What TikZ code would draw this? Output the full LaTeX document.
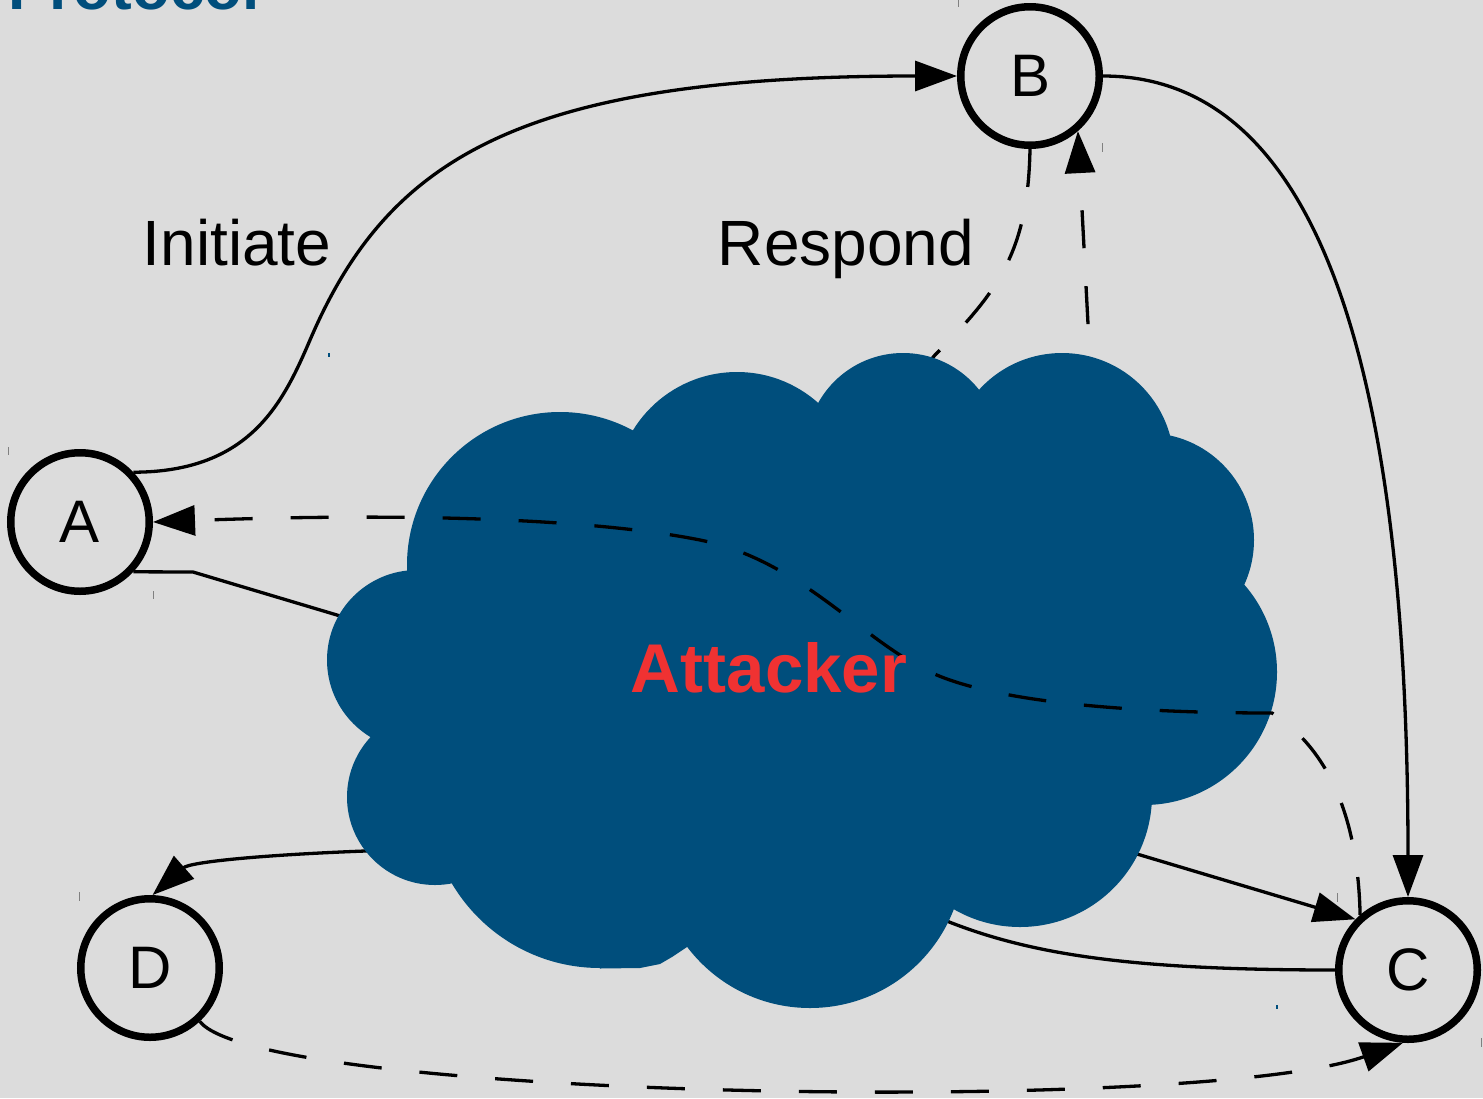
\documentclass[tikz,border=0pt]{standalone}
\usepackage{fontspec}
\setmainfont{Liberation Sans}
\usetikzlibrary{arrows.meta}
\definecolor{bg}{RGB}{220,220,220}
\definecolor{cloudblue}{RGB}{0,78,124}
\definecolor{attred}{RGB}{240,50,50}
\tikzset{
  party/.style={circle, draw=black, line width=7.5pt, minimum size=138.5pt, inner sep=0pt, fill=bg, font=\fontsize{60}{72}\selectfont},
  conn/.style={line width=3.3pt, draw=black},
  dashconn/.style={conn, dash pattern=on 38pt off 38pt},
  arr/.style={-{Triangle[length=42pt,width=30pt]}},
  lbl/.style={font=\fontsize{64}{76}\selectfont, inner sep=0pt, anchor=base},
  tickg/.style={line width=1pt, draw=gray},
  tickb/.style={line width=1.5pt, draw=cloudblue}
}
\begin{document}
\begin{tikzpicture}[x=1pt,y=-1pt]
\useasboundingbox (0,0) rectangle (1483,1098);
\clip (0,0) rectangle (1483,1098);
\fill[bg] (0,0) rectangle (1483,1098);

% title (cut off at the top edge, as in the reference)
\node[anchor=base west, inner sep=0pt, text=cloudblue, font=\bfseries\fontsize{62}{74}\selectfont] (title) at (8,9) {Protocol};

% parties
\node[party] (A) at (80,522) {A};
\node[party] (B) at (1030,76) {B};
\node[party] (C) at (1408,970) {C};
\node[party] (D) at (150,968) {D};

% labels
\node[lbl] (init) at (237,265) {Initiate};
\node[lbl] (resp) at (846,265) {Respond};

% helper coordinates (inside / on the cloud)
\coordinate (ac1) at (193,572);
\coordinate (clB1) at (935,355);
\coordinate (clB2) at (880,420);
\coordinate (clB3) at (1092,400);
\coordinate (cd1) at (900,900);
\coordinate (cd2) at (365,851);
\coordinate (ca1) at (1272,713);
\coordinate (ca2) at (930,672);
\coordinate (ca3) at (700,540);
\coordinate (ab1) at (310,340);

% visible connectors not crossing the cloud
\draw[conn, arr] (A.43) .. controls (250,472) and (283,403) .. (ab1)
  .. controls (388,158) and (520,76) .. (B.west);
\draw[conn, arr] (B.east) .. controls (1330,76) and (1408,400) .. (C.north);
\draw[dashconn, arr] (D.-47) .. controls (260,1100) and (1200,1115) .. (C.-94);

% connectors passing behind the cloud
\draw[conn, arr] (A.-43) -- (ac1) -- (C.136);
\draw[conn, arr] (C.west) .. controls (1100,970) and (1000,950) .. (cd1)
  .. controls (800,850) and (500,845) .. (cd2)
  .. controls (260,855) and (190,862) .. (D.88);
\draw[dashconn] (B.south) .. controls (1028,250) and (1000,290) .. (clB1) -- (clB2);
\draw[dashconn, arr] (clB3) -- (B.-49);

% cloud (attacker)
\foreach \cx/\cy/\r in {560/565/153, 737/494/122, 903/450/97, 1062/465/112,
  1147/540/107, 1144/672/133, 1020/795/132, 810/854/154, 600/796/172,
  435/797/88, 417/660/90}
  \fill[cloudblue] (\cx,\cy) circle[radius=\r pt];
\fill[cloudblue] (560,565) -- (737,494) -- (903,450) -- (1062,465) -- (1147,540)
  -- (1144,672) -- (1020,795) -- (810,854) -- (600,796) -- (435,797) -- (417,660) -- cycle;
\fill[cloudblue] (600,900) -- (600,968.5) -- (640,968) -- (660,964) -- (672,957) -- (690,945) -- cycle;

% connector drawn over the cloud
\draw[dashconn, arr] (C.131) .. controls (1358,820) and (1330,750) .. (ca1)
  .. controls (1150,713) and (1000,705) .. (ca2)
  .. controls (860,639) and (800,560) .. (ca3)
  .. controls (600,520) and (420,512) .. (A.east);

\node[text=attred, font=\bfseries\fontsize{69}{80}\selectfont, inner sep=0pt, anchor=base] (att) at (769,692) {Attacker};

% small marks
\draw[tickg] (958,0) -- (958,7);
\draw[tickg] (1102,143) -- (1102,152);
\draw[tickg] (8,447) -- (8,455);
\draw[tickg] (153,591) -- (153,599);
\draw[tickg] (79,892) -- (79,901);
\draw[tickg] (1481,1038) -- (1481,1047);
\draw[tickg] (1337,893) -- (1337,902);
\draw[tickb] (329,353) -- (329,357);
\draw[tickb] (1277,1005) -- (1277,1009);
\end{tikzpicture}
\end{document}
